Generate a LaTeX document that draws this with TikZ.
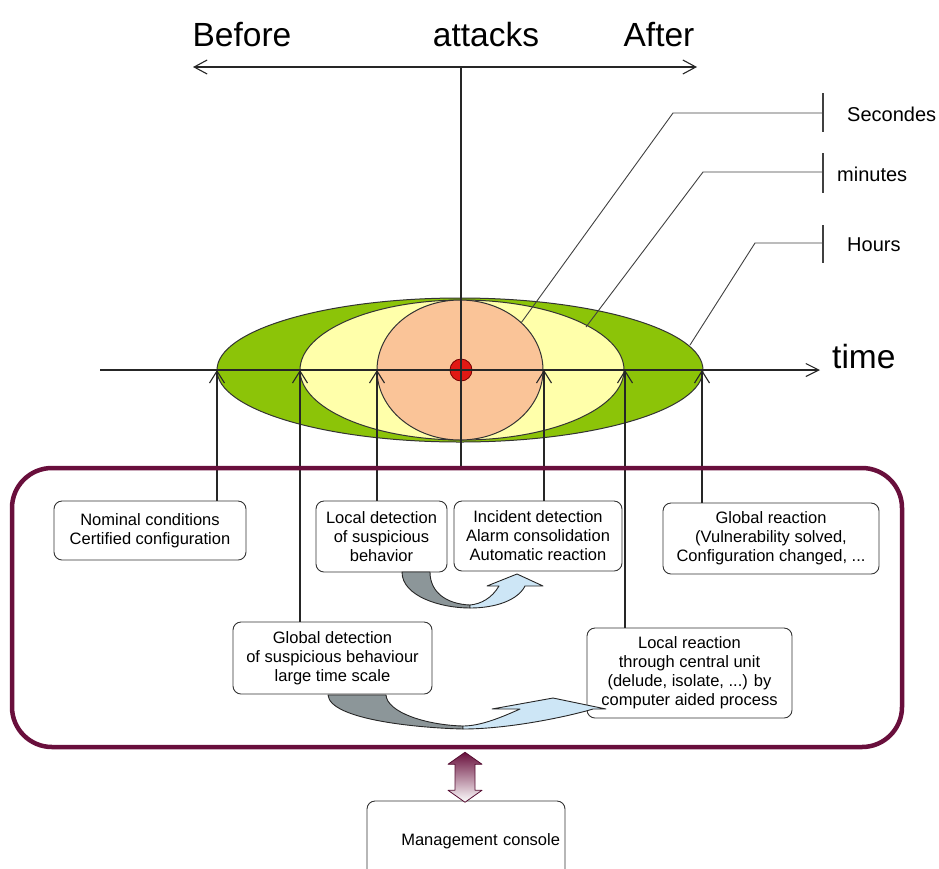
\documentclass[tikz,border=0pt]{standalone}
\usepackage{fontspec}
\setmainfont{Liberation Sans}
\usetikzlibrary{arrows.meta,calc}
\definecolor{leafgreen}{RGB}{140,196,8}
\definecolor{paleyellow}{RGB}{255,255,170}
\definecolor{peach}{RGB}{250,196,152}
\definecolor{dotred}{RGB}{225,25,20}
\definecolor{maroon}{RGB}{105,15,60}
\definecolor{arrowgray}{RGB}{140,150,153}
\definecolor{paleblue}{RGB}{205,230,246}
\pgfdeclarelayer{bg}
\pgfsetlayers{bg,main}
\begin{document}
\begin{tikzpicture}[x=1pt,y=-1pt,line join=round,
  thinline/.style={line width=1.1pt, draw=black!85},
  leader/.style={line width=0.9pt, draw=black!75},
  uparrow/.style={-{Straight Barb[length=12pt,width=15pt]}},
  box/.style={draw=black!80, line width=0.9pt, rounded corners=8pt, fill=white,
    inner sep=0pt, align=center, font=\fontsize{16.5}{19}\selectfont},
  toplabel/.style={font=\fontsize{33.5}{38}\selectfont, inner sep=0pt},
  scalelabel/.style={font=\fontsize{20}{24}\selectfont, inner sep=0pt, anchor=west},
  curvedpart/.style={draw=black!85, line width=0.9pt},
]
\useasboundingbox (0,0) rectangle (939,868);
\clip (0,0) rectangle (939,868);

% top labels and arrow
\node[toplabel, anchor=base] (before) at (242,46) {Before};
\node[toplabel, anchor=base] (attacks) at (486,46) {attacks};
\node[toplabel, anchor=base] (after) at (659,46) {After};
\coordinate (tl) at (193,67);
\coordinate (tr) at (697,67);
\coordinate (tc) at (461,67);
\draw[thinline, {Straight Barb[length=13pt,width=14pt]}-{Straight Barb[length=13pt,width=14pt]}] (tl) -- (tr);

% system frame
\node[draw=maroon, line width=4.5pt, rounded corners=40pt, minimum width=890pt,
      minimum height=279pt, inner sep=0pt] (sys) at (457,607.5) {};

% boxes
\node[box, minimum width=192pt, minimum height=59pt] (nominal) at (150,530.5)
  {Nominal conditions\\Certified configuration};
\node[box, minimum width=131pt, minimum height=71pt] (localdet) at (381.5,536.5)
  {Local detection\\of suspicious\\behavior};
\node[box, minimum width=168pt, minimum height=70pt] (incident) at (538,536)
  {Incident detection\\Alarm consolidation\\Automatic reaction};
\node[box, minimum width=216pt, minimum height=71pt] (globreact) at (771,538.5)
  {Global reaction\\(Vulnerability solved,\\Configuration changed, ...};
\node[box, minimum width=205pt, minimum height=90pt] (localreact) at (689.5,673)
  {Local reaction\\through central unit\\(delude, isolate, ...) by\\computer aided process};
\node[box, minimum width=199pt, minimum height=72pt] (globdet) at (332.5,658)
  {Global detection\\of suspicious behaviour\\large time scale};
\node[box, align=right, text width=188pt, inner xsep=5pt, minimum height=80pt] (console) at (466,841)
  {Management console};

% background drawings
\begin{pgfonlayer}{bg}
  \filldraw[fill=leafgreen, draw=black!80, line width=1pt] (460,370) ellipse [x radius=243, y radius=72];
  \filldraw[fill=paleyellow, draw=black!80, line width=1pt] (462,370) ellipse [x radius=162, y radius=70];
  \filldraw[fill=peach, draw=black!80, line width=1pt] (460,370) ellipse [x radius=83, y radius=70];
  \filldraw[fill=dotred, draw=red!45!black, line width=0.8pt] (461,370) circle [radius=11];

  \coordinate (ax0) at (100,370);
  \coordinate (ax1) at (820,370);
  \draw[thinline, -{Straight Barb[length=13pt,width=13pt]}] (ax0) -- (ax1);
  \draw[thinline] (tc) -- (tc |- sys.north);

  \coordinate (a1) at (217,370);
  \coordinate (a2) at (300,370);
  \coordinate (a3) at (377,370);
  \coordinate (a4) at (544,370);
  \coordinate (a5) at (625,370);
  \coordinate (a6) at (702,370);
  \draw[thinline, uparrow] (a1 |- nominal.north) -- (a1);
  \draw[thinline, uparrow] (a2 |- globdet.north) -- (a2);
  \draw[thinline, uparrow] (a3 |- localdet.north) -- (a3);
  \draw[thinline, uparrow] (a4 |- incident.north) -- (a4);
  \draw[thinline, uparrow] (a5 |- localreact.north) -- (a5);
  \draw[thinline, uparrow] (a6 |- globreact.north) -- (a6);
\end{pgfonlayer}

\node[toplabel, anchor=base west] (time) at (832,368) {time};

% scale leaders
\coordinate (sec0) at (521,323); \coordinate (sec1) at (673,113); \coordinate (sec2) at (823,113);
\coordinate (min0) at (586,327); \coordinate (min1) at (703,172); \coordinate (min2) at (823,172);
\coordinate (hrs0) at (690,345); \coordinate (hrs1) at (755,243); \coordinate (hrs2) at (823,243);
\draw[leader] (sec0) -- (sec1) -- (sec2);
\draw[leader] (min0) -- (min1) -- (min2);
\draw[leader] (hrs0) -- (hrs1) -- (hrs2);
\draw[leader, line width=1.2pt] (sec2) ++(0,-20) -- ++(0,39);
\draw[leader, line width=1.2pt] (min2) ++(0,-19) -- ++(0,40);
\draw[leader, line width=1.2pt] (hrs2) ++(0,-18) -- ++(0,38);
\node[scalelabel] (secondes) at (847,114) {Secondes};
\node[scalelabel] (minutes) at (837,174) {minutes};
\node[scalelabel] (hours) at (847,245) {Hours};

% small curved arrow
\path[fill=arrowgray, curvedpart] (402,572) .. controls (402,596) and (440,608) .. (470,608)
  -- (470,605) .. controls (446,604) and (430,592) .. (430,572) -- cycle;
\path[fill=paleblue, curvedpart] (470,608) .. controls (496,608) and (518,600) .. (525,586)
  -- (543,586) -- (517,574) -- (487,586) -- (499,586)
  .. controls (492,598) and (481,604) .. (470,605) -- cycle;

% big curved arrow
\path[fill=arrowgray, curvedpart] (328,695) .. controls (330,720) and (420,728) .. (463,729)
  -- (463,726) .. controls (425,725) and (387,712) .. (386,695) -- cycle;
\path[fill=paleblue, curvedpart] (463,729) .. controls (510,729) and (570,716) .. (593,709)
  -- (606,709) -- (553,698) -- (492,709) -- (520,709)
  .. controls (500,718) and (480,726) .. (463,726) -- cycle;

% double arrow to console
\coordinate (mtop) at ($(sys.south)+(8,3)$);
\path[top color=maroon, bottom color=white, draw=maroon!80!black, line width=0.8pt]
  (mtop) -- ++(17,12) -- ++(-7,0) -- ++(0,26) -- ++(7,0) -- ++(-17,12)
  -- ++(-17,-12) -- ++(7,0) -- ++(0,-26) -- ++(-7,0) -- cycle;
\end{tikzpicture}
\end{document}
